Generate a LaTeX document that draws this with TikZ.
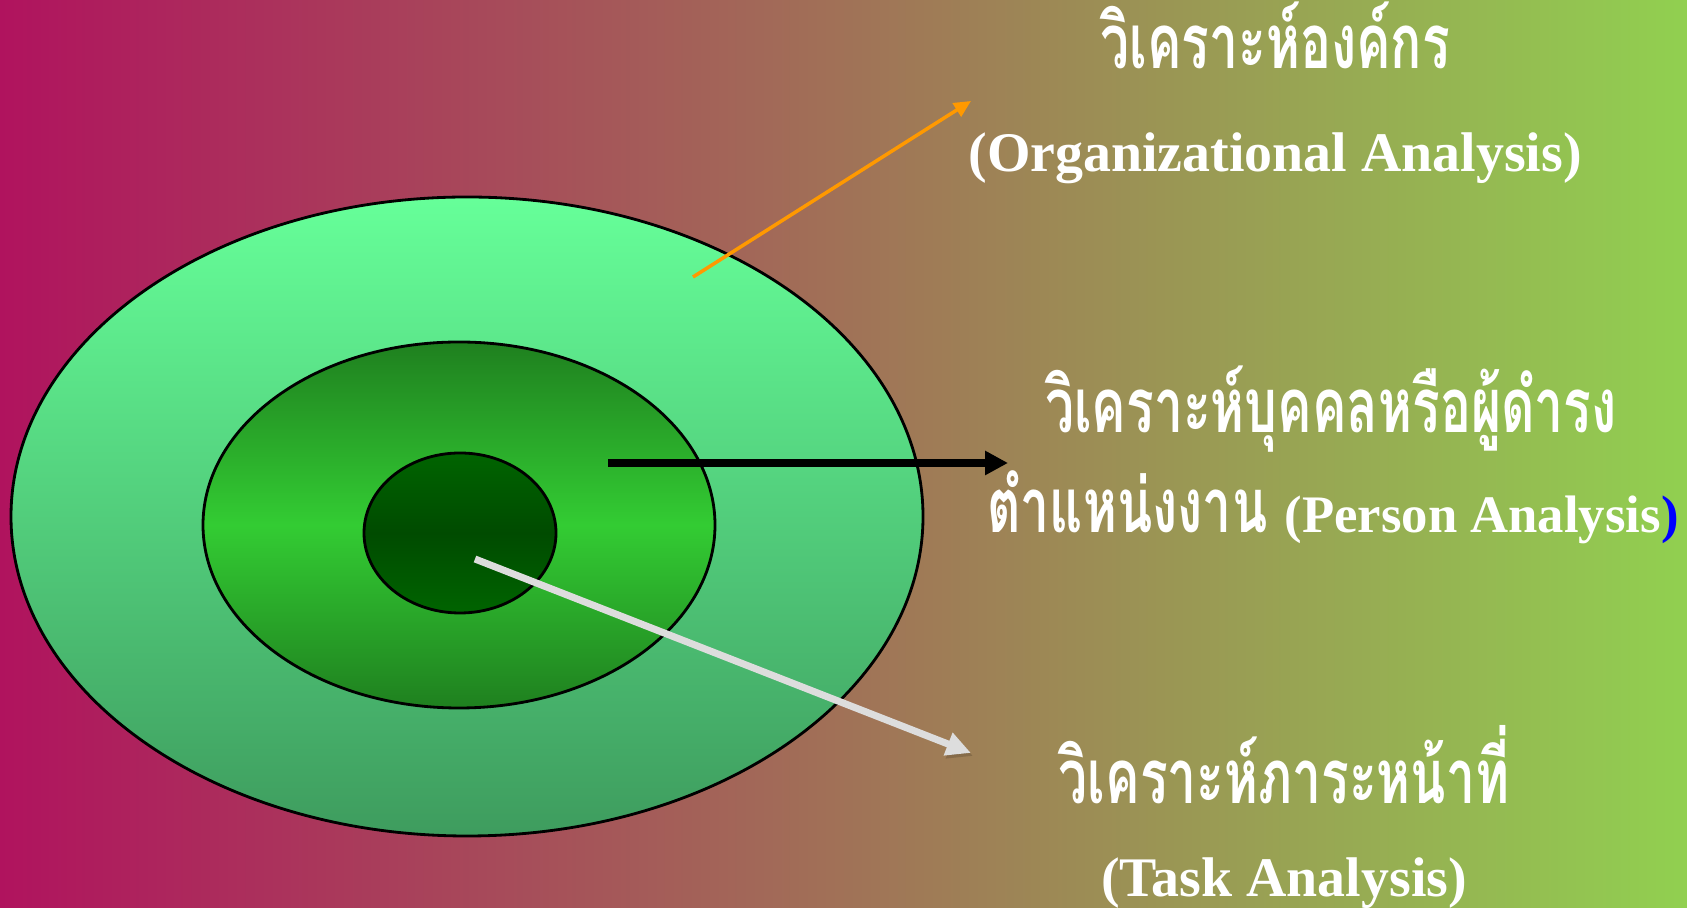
\documentclass[tikz,border=0pt]{standalone}
\usepackage{fontspec}
\setmainfont{Liberation Serif}
\newfontfamily\thaifont[Script=Thai, UprightFont={* Bold}, FakeStretch=0.68]{Loma}
\usetikzlibrary{shapes.geometric, arrows.meta}

\definecolor{bgleft}{HTML}{B0135E}
\definecolor{bgright}{HTML}{91D050}
\definecolor{outertop}{HTML}{66FF99}
\definecolor{outerbottom}{HTML}{3E9C5E}
\definecolor{midedge}{HTML}{1F801F}
\definecolor{midcenter}{HTML}{33CC33}
\definecolor{coreedge}{HTML}{006400}
\definecolor{corecenter}{HTML}{004B00}
\definecolor{arroworange}{HTML}{FF9900}
\definecolor{arrowgrey}{HTML}{DDDDDD}

\begin{document}
\begin{tikzpicture}[
    ring/.style={ellipse, draw=black, line width=0.8pt, inner sep=0pt},
    thlabel/.style={anchor=base, text=white, font=\thaifont\fontsize{21.6}{26}\selectfont},
    enlabel/.style={anchor=base, text=white, font=\bfseries\fontsize{15.9}{19}\selectfont},
    orgarrow/.style={-{Triangle[length=4.8pt, width=4.4pt]}, line width=1pt, draw=arroworange},
    personarrow/.style={-{Triangle[length=6.5pt, width=6.5pt]}, line width=2.3pt, draw=black},
    taskarrow/.style={-{Triangle[length=7pt, width=6.5pt]}, line width=2pt, draw=arrowgrey,
        preaction={draw=black, opacity=0.15, transform canvas={shift={(0.02, -0.03)}}}}
]
    % Background
    \useasboundingbox (0, 0) rectangle (16.87, 9.07);
    \shade[left color=bgleft, right color=bgright] (0, 0) rectangle (16.87, 9.07);

    % Rings
    \node[ring, minimum width=9.12cm, minimum height=6.39cm, top color=outertop, bottom color=outerbottom] (outer) at (4.67, 3.905) {};
    \node[ring, minimum width=5.12cm, minimum height=3.66cm, top color=midedge, bottom color=midedge, middle color=midcenter] (middle) at (4.59, 3.82) {};
    \node[ring, minimum width=1.92cm, minimum height=1.60cm, top color=coreedge, bottom color=coreedge, middle color=corecenter] (inner) at (4.60, 3.74) {};

    % Labels
    \node[thlabel] (orgth) at (12.75, 8.38) {วิเคราะห์องค์กร};
    \node[enlabel] (orgen) at (12.75, 7.35) {(Organizational Analysis)};
    \node[thlabel] (personth) at (13.31, 4.74) {วิเคราะห์บุคคลหรือผู้ดำรง};
    \node[thlabel] (personen) at (13.33, 3.74) {ตำแหน่งงาน {\normalfont\bfseries\fontsize{15}{18}\selectfont (Person Analysis\textcolor{blue}{)}}};
    \node[thlabel] (taskth) at (12.84, 1.04) {วิเคราะห์ภาระหน้าที่};
    \node[enlabel] (tasken) at (12.84, 0.10) {(Task Analysis)};

    % Arrow ends
    \coordinate (orgstart) at (6.93, 6.30);
    \coordinate (orgend) at (9.71, 8.06);
    \coordinate (personstart) at (6.08, 4.44);
    \coordinate (personend) at (10.08, 4.44);
    \coordinate (taskstart) at (4.75, 3.48);
    \coordinate (taskend) at (9.71, 1.54);

    % Arrows
    \draw[orgarrow] (orgstart) -- (orgend);
    \draw[personarrow] (personstart) -- (personend);
    \draw[taskarrow] (taskstart) -- (taskend);
\end{tikzpicture}
\end{document}
